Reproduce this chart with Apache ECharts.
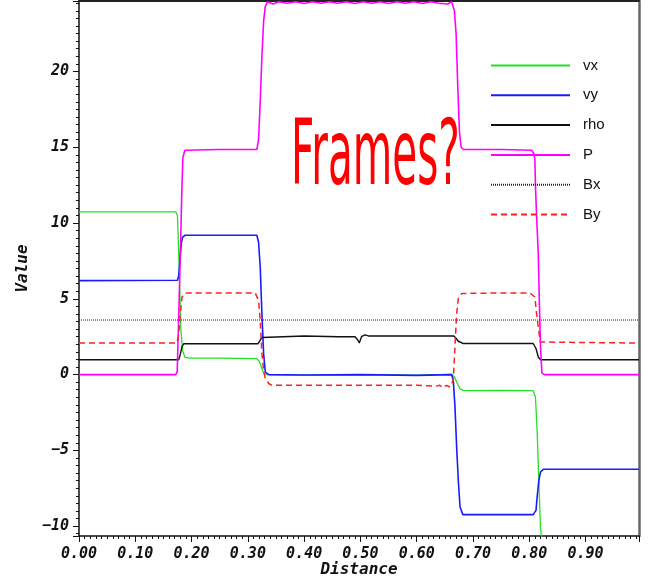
<!DOCTYPE html>
<html>
<head>
<meta charset="utf-8">
<script src="https://cdn.jsdelivr.net/npm/echarts@6/dist/echarts.min.js"></script>
<style>
html,body{margin:0;padding:0;background:#fff;}
#c{width:653px;height:583px;}
</style>
</head>
<body>
<div id="c"></div>
<script>
const seriesNames = ['vx', 'vy', 'rho', 'P', 'Bx', 'By'];

const vxX = [0, 0.172, 0.175, 0.178, 0.181, 0.184, 0.188, 0.195, 0.25, 0.316, 0.320, 0.324, 0.328, 0.332, 0.40, 0.50, 0.60, 0.662, 0.667, 0.671, 0.677, 0.682, 0.69, 0.75, 0.807, 0.811, 0.814, 0.817, 0.820, 0.8235, 0.995];
const vxY = [10.73, 10.73, 10.5, 7.0, 3.0, 1.6, 1.15, 1.08, 1.08, 1.05, 0.9, 0.5, 0.1, 0.0, -0.03, 0.0, -0.03, 0.02, -0.15, -0.49, -0.93, -1.04, -1.06, -1.04, -1.06, -1.48, -3.7, -7.0, -10.15, -11.2, -11.2];

const vyX = [0, 0.175, 0.177, 0.178, 0.180, 0.182, 0.184, 0.188, 0.25, 0.316, 0.319, 0.322, 0.325, 0.328, 0.331, 0.337, 0.40, 0.50, 0.60, 0.662, 0.665, 0.668, 0.671, 0.674, 0.677, 0.682, 0.75, 0.807, 0.812, 0.814, 0.817, 0.820, 0.825, 0.995];
const vyY = [6.2, 6.22, 6.5, 6.9, 7.9, 8.7, 9.05, 9.19, 9.19, 9.19, 8.75, 7.1, 4.0, 1.39, 0.17, 0.0, -0.03, 0.0, -0.05, 0.0, -0.38, -2.1, -4.8, -7.0, -8.74, -9.24, -9.24, -9.24, -8.96, -8.08, -7.0, -6.43, -6.25, -6.25];

const rhoX = [0, 0.177, 0.179, 0.181, 0.183, 0.186, 0.25, 0.318, 0.321, 0.325, 0.328, 0.40, 0.461, 0.479, 0.4905, 0.495, 0.498, 0.502, 0.508, 0.514, 0.60, 0.666, 0.670, 0.674, 0.677, 0.683, 0.75, 0.807, 0.812, 0.816, 0.820, 0.995];
const rhoY = [0.98, 0.98, 1.2, 1.5, 1.85, 2.03, 2.03, 2.03, 2.15, 2.45, 2.55, 2.55, 2.5, 2.5, 2.5, 2.3, 2.09, 2.5, 2.62, 2.55, 2.55, 2.55, 2.4, 2.2, 2.09, 2.05, 2.05, 2.05, 1.72, 1.16, 0.98, 0.98];

const pX = [0, 0.172, 0.1745, 0.178, 0.181, 0.183, 0.1845, 0.188, 0.25, 0.316, 0.319, 0.322, 0.325, 0.328, 0.331, 0.335, 0.345, 0.355, 0.37, 0.385, 0.40, 0.415, 0.43, 0.445, 0.46, 0.475, 0.49, 0.505, 0.52, 0.535, 0.55, 0.565, 0.58, 0.595, 0.61, 0.625, 0.64, 0.655, 0.662, 0.665, 0.667, 0.670, 0.673, 0.676, 0.679, 0.683, 0.75, 0.804, 0.808, 0.810, 0.811, 0.813, 0.816, 0.818, 0.820, 0.8225, 0.827, 0.995];
const pY = [0, 0, 0.2, 5, 9.5, 12.5, 14.3, 14.8, 14.85, 14.85, 15.5, 18, 21, 23.3, 24.3, 24.6, 24.45, 24.6, 24.5, 24.6, 24.48, 24.6, 24.5, 24.6, 24.5, 24.6, 24.48, 24.6, 24.5, 24.6, 24.48, 24.6, 24.5, 24.6, 24.48, 24.6, 24.5, 24.45, 24.6, 24.5, 24.0, 22.5, 19, 16, 15.0, 14.85, 14.85, 14.8, 14.6, 14.2, 12.5, 10.5, 8.0, 4.7, 1.8, 0.1, 0, 0];

const bxX = [0, 0.995];
const bxY = [3.6, 3.6];

const byX = [0, 0.174, 0.177, 0.180, 0.183, 0.189, 0.25, 0.313, 0.319, 0.322, 0.325, 0.328, 0.331, 0.337, 0.343, 0.40, 0.50, 0.60, 0.633, 0.641, 0.647, 0.653, 0.659, 0.665, 0.668, 0.671, 0.674, 0.680, 0.75, 0.801, 0.810, 0.813, 0.816, 0.8197, 0.8225, 0.995];
const byY = [2.08, 2.08, 2.6, 4.0, 5.12, 5.39, 5.39, 5.39, 4.9, 3.58, 1.39, 0.28, -0.26, -0.59, -0.71, -0.71, -0.71, -0.71, -0.77, -0.71, -0.86, -0.71, -0.82, -0.38, 1.82, 4.03, 5.02, 5.35, 5.39, 5.39, 5.12, 4.03, 3.14, 2.15, 2.09, 2.08];

const xRange = [0, 0.995];
const yRange = [-10.65, 24.65];
const annotationText = 'Frames?';

function pairs(xs, ys) { return xs.map((x, i) => [x, ys[i]]); }

const monoFont = {fontFamily: 'DejaVu Sans Mono', fontWeight: 'bold', fontStyle: 'italic', color: '#111', fontSize: 14};

const chart = echarts.init(document.getElementById('c'), null, {renderer: 'canvas'});

function lineSeries(name, xs, ys, color, width, type) {
  return {
    name: name, type: 'line', data: pairs(xs, ys),
    symbol: 'none', showSymbol: false, animation: false, clip: true,
    lineStyle: {color: color, width: width, type: type || 'solid'},
    itemStyle: {color: color}
  };
}

chart.setOption({
  animation: false,
  backgroundColor: '#fff',
  grid: {left: 79, right: 14, top: 1, bottom: 47, containLabel: false, outerBoundsMode: 'none'},
  legend: {
    orient: 'vertical', left: 490, top: 58, padding: 0,
    itemWidth: 79, itemHeight: 14, itemGap: 14.8,
    data: seriesNames,
    itemStyle: {opacity: 0},
    textStyle: {fontFamily: 'Liberation Sans', fontSize: 15, color: '#111', padding: [0, 0, 0, 8]}
  },
  xAxis: [{
    type: 'value', min: xRange[0], max: xRange[1], splitNumber: 10, minInterval: 0.1, maxInterval: 0.1,
    name: 'Distance', nameLocation: 'middle', nameGap: 26, nameMoveOverlap: false,
    nameTextStyle: Object.assign({}, monoFont, {fontSize: 16}),
    axisLine: {show: true, onZero: false, lineStyle: {color: '#111', width: 1.5}},
    axisTick: {show: true, inside: false, length: 6, lineStyle: {color: '#111', width: 1}},
    minorTick: {show: true, splitNumber: 10, length: 3, lineStyle: {color: '#111', width: 1}},
    splitLine: {show: false},
    axisLabel: Object.assign({}, monoFont, {fontSize: 15, margin: 11, showMaxLabel: false, formatter: v => v.toFixed(2)})
  }, {
    type: 'value', position: 'top', min: xRange[0], max: xRange[1],
    axisLine: {show: true, onZero: false, lineStyle: {color: '#222', width: 2}},
    axisTick: {show: false}, axisLabel: {show: false}, splitLine: {show: false}
  }],
  yAxis: [{
    type: 'value', min: yRange[0], max: yRange[1], splitNumber: 7, minInterval: 5, maxInterval: 5,
    name: 'Value', nameLocation: 'middle', nameGap: 48, nameRotate: 90, nameMoveOverlap: false,
    nameTextStyle: Object.assign({}, monoFont, {fontSize: 16}),
    axisLine: {show: true, onZero: false, lineStyle: {color: '#111', width: 1.5}},
    axisTick: {show: true, inside: false, length: 6, lineStyle: {color: '#111', width: 1}},
    minorTick: {show: true, splitNumber: 10, length: 3, lineStyle: {color: '#111', width: 1}},
    splitLine: {show: false},
    axisLabel: Object.assign({}, monoFont, {fontSize: 15, margin: 10, showMaxLabel: false, showMinLabel: false,
      formatter: v => (v < 0 ? '\u2212' + Math.abs(v) : String(v))})
  }, {
    type: 'value', position: 'right', min: yRange[0], max: yRange[1],
    axisLine: {show: true, onZero: false, lineStyle: {color: '#666', width: 2.5}},
    axisTick: {show: false}, axisLabel: {show: false}, splitLine: {show: false}
  }],
  series: [
    lineSeries('vx', vxX, vxY, '#22e022', 1.3),
    lineSeries('vy', vyX, vyY, '#1a1aff', 1.6),
    lineSeries('rho', rhoX, rhoY, '#111111', 1.4),
    lineSeries('P', pX, pY, '#ff00ff', 1.6),
    lineSeries('Bx', bxX, bxY, '#222222', 1, [1, 1]),
    lineSeries('By', byX, byY, '#ff2020', 1.5, [6, 4])
  ],
  graphic: [{
    type: 'text', left: 291, top: 116, z: 100, scaleX: 0.45,
    style: {text: annotationText, fill: '#ff0000', font: '90px "DejaVu Sans"'}
  }]
});
</script>
</body>
</html>
